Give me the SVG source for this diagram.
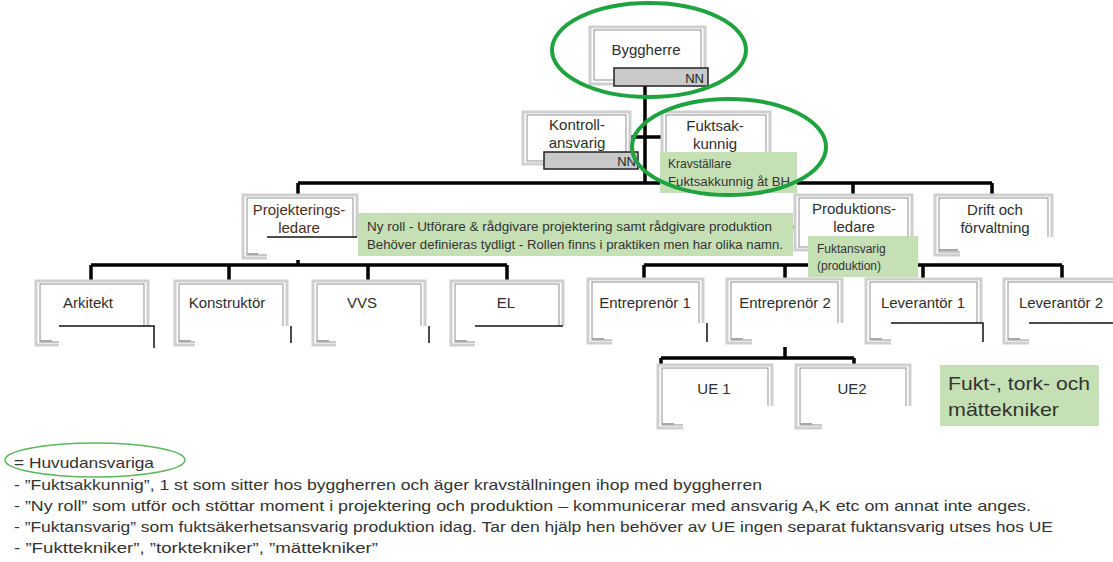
<svg xmlns="http://www.w3.org/2000/svg" width="1113" height="562" viewBox="0 0 1113 562">
<style>
.box{fill:#fff;stroke:#cfcfcf;stroke-width:3}
.inner{fill:none;stroke:#8f8f8f;stroke-width:1}
.mark{stroke:#a8a8a8;stroke-width:2}
.ov{fill:#fff;stroke:none}
.ovl{fill:none;stroke:#111;stroke-width:1.5}
.lbl{font-family:"Liberation Sans",Arial,sans-serif;font-size:15px;fill:#2e2e2e;text-anchor:middle}
.nn{fill:#c9c9c9;stroke:#222;stroke-width:1.5}
.nnt{font-family:"Liberation Sans",Arial,sans-serif;font-size:13px;fill:#222;text-anchor:end}
.note{fill:#c5e0b4}
.nt{font-family:"Liberation Sans",Arial,sans-serif;font-size:12px;fill:#333}
.conn{stroke:#000;stroke-width:3.5;fill:none}
.gconn{stroke:#70ad47;stroke-width:4}
.ell{fill:none;stroke:#1fa33f;stroke-width:4}
.leg{font-family:"Liberation Sans",Arial,sans-serif;font-size:15px;fill:#333}
</style>

<g id="connectors">
<path class="conn" d="M645 86V183M298 183H992M298 183V195M853 183V195M992 183V195"/>
<path class="conn" d="M628 137H662"/>
<path class="conn" d="M298 258V265M91 265H507M91 265V281M229 265V281M368 265V281M507 265V281"/>
<path class="conn" d="M853 252V265M644 265H1062M644 265V279M785 265V279M923 265V279M1062 265V279"/>
<path class="conn" d="M785 343V358M661 358H854M661 358V365M854 358V365"/>
<path class="gconn" d="M343 227H358M793 227H810"/>
</g>

<g id="byggherre">
<rect class="box" x="590" y="27" width="115" height="57"/>
<rect class="inner" x="594" y="30" width="107" height="50"/>
<text class="lbl" x="646" y="55">Byggherre</text>
<rect class="nn" x="614" y="68" width="94" height="18"/>
<text class="nnt" x="704" y="83">NN</text>
</g>

<g id="kontrollansvarig">
<rect class="box" x="523" y="112" width="107" height="52"/>
<rect class="inner" x="527" y="115" width="99" height="46"/>
<text class="lbl" x="577" y="130">Kontroll-</text>
<text class="lbl" x="577" y="148">ansvarig</text>
<rect class="nn" x="544" y="152" width="94" height="17"/>
<text class="nnt" x="636" y="166">NN</text>
</g>

<g id="fuktsakkunnig">
<rect class="box" x="662" y="112" width="108" height="58"/>
<rect class="inner" x="666" y="115" width="100" height="52"/>
<text class="lbl" x="715" y="131">Fuktsak-</text>
<text class="lbl" x="715" y="149">kunnig</text>
<rect class="note" x="660" y="152" width="137" height="41"/>
<text class="nt" x="668" y="168">Kravställare</text>
<text class="nt" x="668" y="186" textLength="122" lengthAdjust="spacingAndGlyphs">Fuktsakkunnig åt BH</text>
</g>

<g id="ellipses">
<ellipse class="ell" cx="649" cy="50" rx="97" ry="47"/>
<ellipse class="ell" cx="729" cy="147" rx="97" ry="48"/>
</g>

<g id="projekteringsledare">
<rect class="box" x="243" y="195" width="114" height="63"/>
<rect class="inner" x="247" y="198" width="106" height="57"/>
<line class="mark" x1="247" y1="254" x2="258" y2="254"/>
<text class="lbl" x="299" y="215" style="fill:#4a2e24">Projekterings-</text>
<text class="lbl" x="299" y="233" style="fill:#4a2e24">ledare</text>
<line x1="267" y1="237" x2="357" y2="237" stroke="#111" stroke-width="1.5"/>
<rect class="ov" x="267" y="238" width="92" height="22"/>
</g>

<g id="nyroll">
<rect class="note" x="358" y="213" width="435" height="43"/>
<text class="nt" x="367" y="231" textLength="405" lengthAdjust="spacingAndGlyphs">Ny roll - Utförare &amp; rådgivare projektering samt rådgivare produktion</text>
<text class="nt" x="367" y="249" textLength="416" lengthAdjust="spacingAndGlyphs">Behöver definieras tydligt - Rollen finns i praktiken men har olika namn.</text>
</g>

<g id="produktionsledare">
<rect class="box" x="795" y="195" width="117" height="55"/>
<rect class="inner" x="799" y="198" width="109" height="49"/>
<text class="lbl" x="854" y="214">Produktions-</text>
<text class="lbl" x="854" y="232">ledare</text>
</g>

<g id="fuktansvarig">
<rect class="note" x="808" y="236" width="110" height="41"/>
<text class="nt" x="817" y="253">Fuktansvarig</text>
<text class="nt" x="817" y="270">(produktion)</text>
</g>

<g id="drift">
<rect class="box" x="935" y="195" width="117" height="60"/>
<rect class="inner" x="939" y="198" width="109" height="54"/>
<line class="mark" x1="939" y1="250" x2="958" y2="250"/>
<text class="lbl" x="995" y="215">Drift och</text>
<text class="lbl" x="995" y="233">förvaltning</text>
<rect class="ov" x="960" y="237" width="96" height="22"/>
</g>

<g id="arkitekt">
<rect class="box" x="36" y="281" width="112" height="64"/>
<rect class="inner" x="40" y="284" width="104" height="58"/>
<line class="mark" x1="40" y1="341" x2="52" y2="341"/>
<text class="lbl" x="88" y="308">Arkitekt</text>
<rect class="ov" x="59" y="326" width="95" height="22"/>
<path class="ovl" d="M59 326H154V348"/>
</g>

<g id="konstruktor">
<rect class="box" x="175" y="281" width="112" height="64"/>
<rect class="inner" x="179" y="284" width="104" height="58"/>
<line class="mark" x1="179" y1="341" x2="191" y2="341"/>
<text class="lbl" x="227" y="308">Konstruktör</text>
<rect class="ov" x="195" y="326" width="95" height="22"/>
<path class="ovl" d="M291 326V343"/>
</g>

<g id="vvs">
<rect class="box" x="313" y="281" width="112" height="64"/>
<rect class="inner" x="317" y="284" width="104" height="58"/>
<line class="mark" x1="317" y1="341" x2="329" y2="341"/>
<text class="lbl" x="362" y="308">VVS</text>
<rect class="ov" x="336" y="326" width="93" height="22"/>
<path class="ovl" d="M429 326V343"/>
</g>

<g id="el">
<rect class="box" x="451" y="281" width="112" height="64"/>
<rect class="inner" x="455" y="284" width="104" height="58"/>
<line class="mark" x1="455" y1="341" x2="467" y2="341"/>
<text class="lbl" x="506" y="308">EL</text>
<rect class="ov" x="475" y="326" width="92" height="22"/>
<path class="ovl" d="M475 326H563"/>
</g>

<g id="entreprenor1">
<rect class="box" x="588" y="279" width="115" height="64"/>
<rect class="inner" x="592" y="282" width="107" height="58"/>
<line class="mark" x1="592" y1="339" x2="604" y2="339"/>
<text class="lbl" x="645" y="308">Entreprenör 1</text>
<rect class="ov" x="612" y="323" width="95" height="24"/>
<path class="ovl" d="M707 323V342"/>
</g>

<g id="entreprenor2">
<rect class="box" x="727" y="279" width="115" height="64"/>
<rect class="inner" x="731" y="282" width="107" height="58"/>
<line class="mark" x1="731" y1="339" x2="743" y2="339"/>
<text class="lbl" x="785" y="308">Entreprenör 2</text>
<rect class="ov" x="752" y="323" width="97" height="24"/>
</g>

<g id="leverantor1">
<rect class="box" x="866" y="279" width="115" height="64"/>
<rect class="inner" x="870" y="282" width="107" height="58"/>
<line class="mark" x1="870" y1="339" x2="882" y2="339"/>
<text class="lbl" x="923" y="308">Leverantör 1</text>
<rect class="ov" x="891" y="323" width="94" height="24"/>
<path class="ovl" d="M891 323H983V342"/>
</g>

<g id="leverantor2">
<rect class="box" x="1004" y="279" width="115" height="64"/>
<rect class="inner" x="1008" y="282" width="107" height="58"/>
<line class="mark" x1="1008" y1="339" x2="1020" y2="339"/>
<text class="lbl" x="1061" y="308">Leverantör 2</text>
<rect class="ov" x="1029" y="323" width="90" height="24"/>
<path class="ovl" d="M1029 323H1113"/>
</g>

<g id="ue1">
<rect class="box" x="658" y="365" width="114" height="63"/>
<rect class="inner" x="662" y="368" width="106" height="57"/>
<line class="mark" x1="662" y1="424" x2="674" y2="424"/>
<text class="lbl" x="714" y="394">UE 1</text>
<rect class="ov" x="683" y="406" width="94" height="24"/>
</g>

<g id="ue2">
<rect class="box" x="796" y="365" width="114" height="63"/>
<rect class="inner" x="800" y="368" width="106" height="57"/>
<line class="mark" x1="800" y1="424" x2="812" y2="424"/>
<text class="lbl" x="852" y="394">UE2</text>
<rect class="ov" x="822" y="406" width="94" height="24"/>
</g>

<g id="tekniker">
<rect class="note" x="940" y="365" width="159" height="61"/>
<text class="nt" x="948" y="390" style="font-size:19px" textLength="142" lengthAdjust="spacingAndGlyphs">Fukt-, tork-  och</text>
<text class="nt" x="948" y="416" style="font-size:19px" textLength="111" lengthAdjust="spacingAndGlyphs">mättekniker</text>
</g>

<g id="legend">
<ellipse cx="95" cy="460" rx="90" ry="17" fill="none" stroke="#5cb85c" stroke-width="1.5"/>
<text class="leg" x="14" y="468" textLength="140" lengthAdjust="spacingAndGlyphs">= Huvudansvariga</text>
<text class="leg" x="14" y="490" textLength="748" lengthAdjust="spacingAndGlyphs">- ”Fuktsakkunnig”, 1 st som sitter hos byggherren och äger kravställningen ihop med byggherren</text>
<text class="leg" x="14" y="511" textLength="1017" lengthAdjust="spacingAndGlyphs">- ”Ny roll” som utför och stöttar moment i projektering och produktion – kommunicerar med ansvarig A,K etc om annat inte anges.</text>
<text class="leg" x="14" y="532" textLength="1039" lengthAdjust="spacingAndGlyphs">- ”Fuktansvarig” som fuktsäkerhetsansvarig produktion idag. Tar den hjälp hen behöver av UE ingen separat fuktansvarig utses hos UE</text>
<text class="leg" x="14" y="553" textLength="364" lengthAdjust="spacingAndGlyphs">- ”Fukttekniker”, ”torktekniker”, ”mättekniker”</text>
</g>
</svg>
